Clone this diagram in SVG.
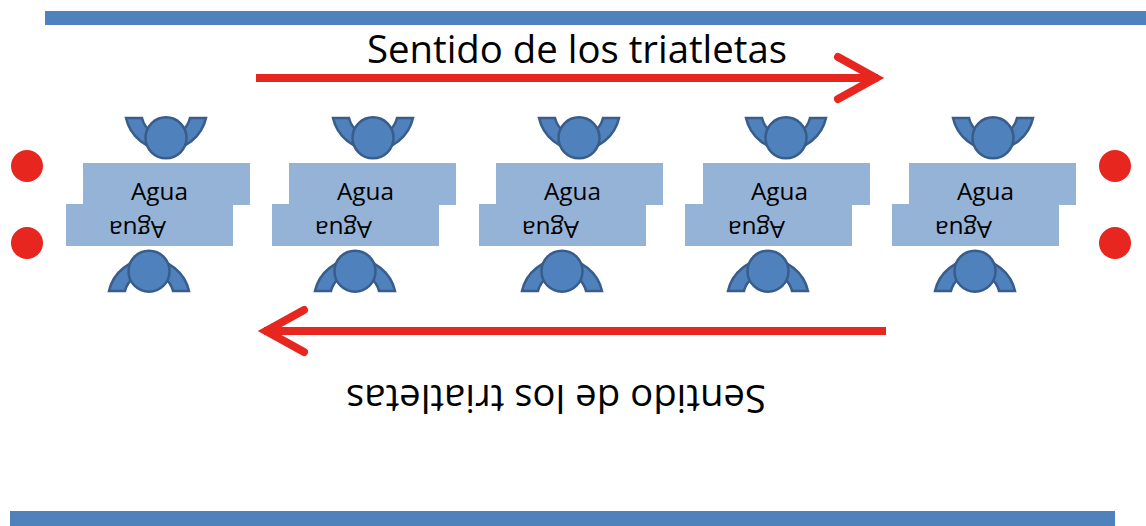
<svg xmlns="http://www.w3.org/2000/svg" width="1146" height="526" viewBox="0 0 1146 526">
<style>
.bar{fill:#4F81BD}
.dot{fill:#E7261F}
.water{fill:#95B3D7}
.body{fill:#4F81BD;stroke:#385D8A;stroke-width:2.500}
.arrow{fill:none;stroke:#E7261F;stroke-width:8;stroke-linecap:round;stroke-linejoin:miter}
.shaft{fill:none;stroke:#E7261F;stroke-width:8}
text{font-family:"Open Sans","Noto Sans","Liberation Sans",sans-serif;fill:#000}
.big{font-size:38px}
.small{font-size:24px}
</style>
<defs>
<g id="person">
<path class="body" d="M-40 1 H-24 A24.700 24.700 0 0 0 24 1 H40 A41 41 0 0 1 -40 1Z"/>
<circle class="body" cx="0" cy="20.800" r="20.500"/>
</g>
<rect id="water" class="water" width="167" height="42"/>
</defs>
<rect id="top-bar" class="bar" x="45" y="11" width="1101" height="14"/>
<rect id="bottom-bar" class="bar" x="10" y="511" width="1105" height="15"/>
<g id="dots">
<circle class="dot" cx="27" cy="166" r="16"/>
<circle class="dot" cx="27" cy="243" r="16"/>
<circle class="dot" cx="1115" cy="166" r="16"/>
<circle class="dot" cx="1115" cy="243" r="16"/>
</g>
<g id="station-1">
<use href="#person" x="166" y="117"/>
<use href="#person" transform="translate(149 292) rotate(180)"/>
<use href="#water" x="83" y="163"/><use href="#water" x="66" y="204"/>
<text class="small" x="131" y="200" textLength="57" lengthAdjust="spacingAndGlyphs">Agua</text>
<text class="small" transform="translate(166 221) rotate(180)" textLength="57" lengthAdjust="spacingAndGlyphs">Agua</text>
</g>
<g id="station-2">
<use href="#person" x="373" y="117"/>
<use href="#person" transform="translate(355 292) rotate(180)"/>
<use href="#water" x="289" y="163"/><use href="#water" x="272" y="204"/>
<text class="small" x="337" y="200" textLength="57" lengthAdjust="spacingAndGlyphs">Agua</text>
<text class="small" transform="translate(372 221) rotate(180)" textLength="57" lengthAdjust="spacingAndGlyphs">Agua</text>
</g>
<g id="station-3">
<use href="#person" x="579" y="117"/>
<use href="#person" transform="translate(562 292) rotate(180)"/>
<use href="#water" x="496" y="163"/><use href="#water" x="479" y="204"/>
<text class="small" x="544" y="200" textLength="57" lengthAdjust="spacingAndGlyphs">Agua</text>
<text class="small" transform="translate(579 221) rotate(180)" textLength="57" lengthAdjust="spacingAndGlyphs">Agua</text>
</g>
<g id="station-4">
<use href="#person" x="786" y="117"/>
<use href="#person" transform="translate(768 292) rotate(180)"/>
<use href="#water" x="703" y="163"/><use href="#water" x="685" y="204"/>
<text class="small" x="751" y="200" textLength="57" lengthAdjust="spacingAndGlyphs">Agua</text>
<text class="small" transform="translate(785 221) rotate(180)" textLength="57" lengthAdjust="spacingAndGlyphs">Agua</text>
</g>
<g id="station-5">
<use href="#person" x="993" y="117"/>
<use href="#person" transform="translate(975 292) rotate(180)"/>
<use href="#water" x="909" y="163"/><use href="#water" x="892" y="204"/>
<text class="small" x="957" y="200" textLength="57" lengthAdjust="spacingAndGlyphs">Agua</text>
<text class="small" transform="translate(992 221) rotate(180)" textLength="57" lengthAdjust="spacingAndGlyphs">Agua</text>
</g>
<g id="label-top"><text class="big" x="367" y="63" textLength="420" lengthAdjust="spacingAndGlyphs">Sentido de los triatletas</text></g>
<g id="label-bottom"><text class="big" transform="translate(766 385) rotate(180)" textLength="420" lengthAdjust="spacingAndGlyphs">Sentido de los triatletas</text></g>
<g id="connectors">
<path class="shaft" d="M256 78H878"/>
<path class="arrow" d="M838 57L876 78L838 99"/>
<path class="shaft" d="M886 331H264"/>
<path class="arrow" d="M304 310L266 331L304 352"/>
</g>
</svg>
